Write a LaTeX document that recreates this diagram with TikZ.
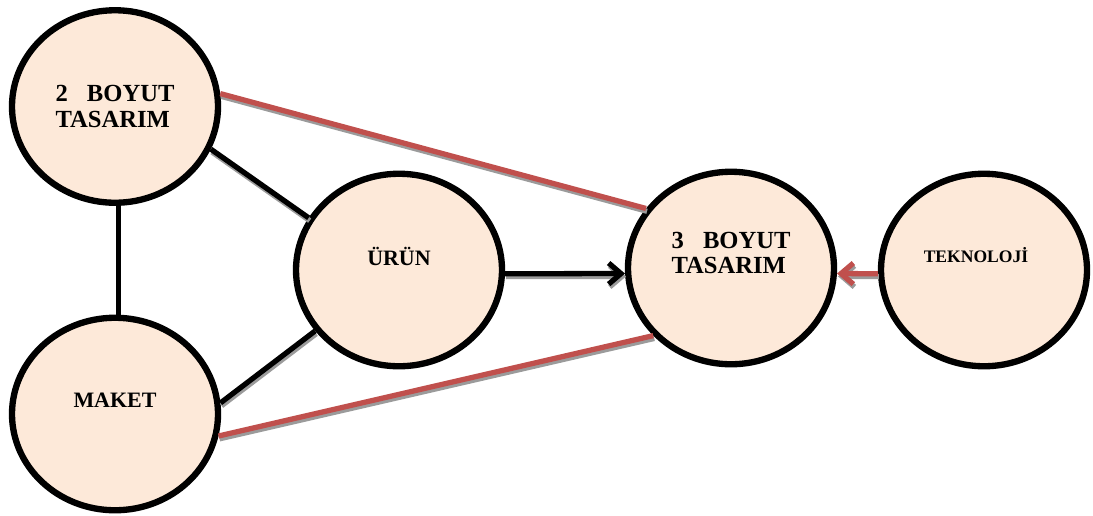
\documentclass[tikz,border=0pt]{standalone}
\usepackage{fontspec}
\setmainfont{Liberation Serif}
\usetikzlibrary{arrows.meta}
\usetikzlibrary{shapes.geometric}
\usetikzlibrary{positioning}
\definecolor{peach}{RGB}{253,233,217}
\definecolor{redline}{RGB}{192,80,77}
\definecolor{shadowgray}{RGB}{155,155,155}

\tikzset{
  bubble/.style={ellipse, draw=black, line width=3.6pt, fill=peach,
    minimum width=4.12cm, minimum height=3.85cm, inner sep=0pt},
  txt/.style={font=\bfseries\fontsize{14}{14.5}\selectfont, align=left, inner sep=0pt},
  link/.style={line width=3pt, line cap=butt},
  tip/.style={-{Straight Barb[length=7pt,width=12pt]}},
}
% connector with a grey drop shadow
\newcommand{\shadowlink}[3]{%
  \draw[link, #1, draw=shadowgray, transform canvas={shift={(0.6pt,-1.6pt)}}] (#2) -- (#3);
  \draw[link, #1] (#2) -- (#3);}

\begin{document}
\begin{tikzpicture}
      \useasboundingbox (0,0) rectangle (21.86,-10.30);

      \node[bubble] (twoD) at (2.30,-2.13) {};
      \node[bubble] (maket) at (2.30,-8.28) {};
      \node[bubble] (urun) at (7.98,-5.40) {};
      \node[bubble] (threeD) at (14.62,-5.36) {};
      \node[bubble] (tekno) at (19.68,-5.40) {};

      % labels
      \node[txt, text width=2.38cm] (twoDT) at (twoD) {2\hfill BOYUT\\TASARIM};
      \node[txt, text width=2.38cm, yshift=0.3cm] (threeDT) at (threeD) {3\hfill BOYUT\\TASARIM};
      \node[txt, font=\bfseries\fontsize{12.5}{14}\selectfont, yshift=0.27cm] (maketT) at (maket) {MAKET};
      \node[txt, font=\bfseries\fontsize{12.5}{14}\selectfont, yshift=0.28cm] (urunT) at (urun) {ÜRÜN};
      \node[txt, font=\bfseries\fontsize{10}{12}\selectfont, xshift=-0.16cm, yshift=0.29cm] (teknoT) at (tekno) {TEKNOLOJİ};

      \draw[link] (twoD.-88) -- (maket.88);
      \shadowlink{}{twoD.-24}{urun.150}
      \shadowlink{}{maket.6}{urun.-144}
      \shadowlink{tip}{urun.-2}{threeD.183}

      \shadowlink{redline}{twoD.7}{threeD.145}
      \shadowlink{redline}{maket.-12.5}{threeD.-139}
      \shadowlink{redline, tip}{tekno.182.6}{threeD.-3.7}
    \end{tikzpicture}
\end{document}
